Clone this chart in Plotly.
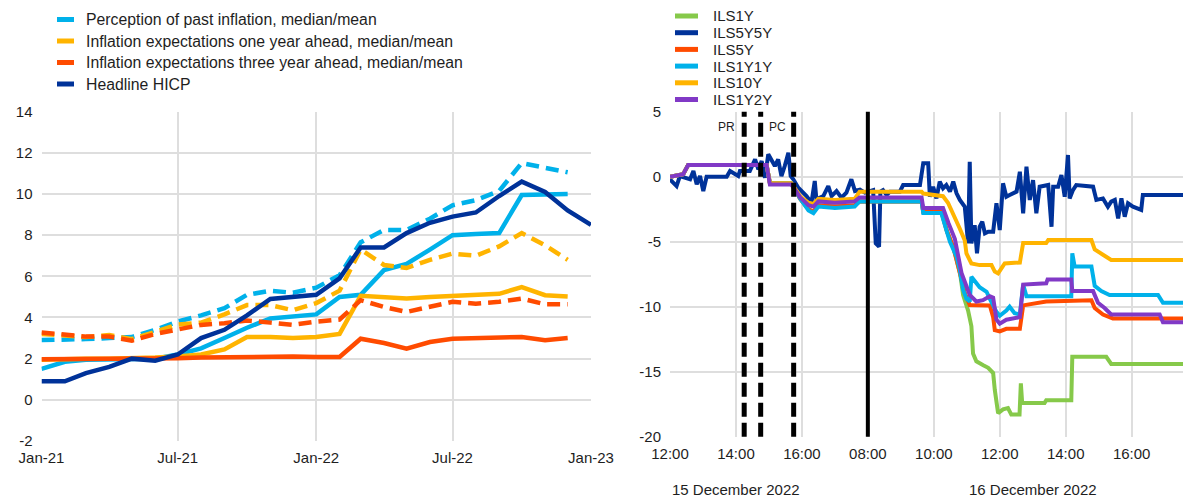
import pandas as pd
import plotly.graph_objects as go

# ---------------- Left panel: monthly data (%) ----------------
months = ["2021-01-01", "2021-02-01", "2021-03-01", "2021-04-01", "2021-05-01", "2021-06-01",
          "2021-07-01", "2021-08-01", "2021-09-01", "2021-10-01", "2021-11-01", "2021-12-01",
          "2022-01-01", "2022-02-01", "2022-03-01", "2022-04-01", "2022-05-01", "2022-06-01",
          "2022-07-01", "2022-08-01", "2022-09-01", "2022-10-01", "2022-11-01", "2022-12-01",
          "2023-01-01"]

hicp = [0.9, 0.9, 1.3, 1.6, 2.0, 1.9, 2.2, 3.0, 3.4, 4.1, 4.9, 5.0,
        5.1, 5.9, 7.4, 7.4, 8.1, 8.6, 8.9, 9.1, 9.9, 10.6, 10.1, 9.2, 8.5]

perc_median = [1.5, 1.85, 1.95, 1.95, 2.0, 2.0, 2.2, 2.5, 3.0, 3.5, 3.95, 4.05,
               4.15, 5.0, 5.1, 6.3, 6.6, 7.3, 8.0, 8.05, 8.1, 9.95, 10.0, 10.0]
perc_mean = [2.9, 2.9, 2.95, 3.0, 3.05, 3.4, 3.8, 4.1, 4.45, 5.1, 5.3, 5.2,
             5.45, 6.05, 7.65, 8.25, 8.25, 8.8, 9.45, 9.7, 10.15, 11.5, 11.25, 11.05]

exp1y_median = [1.95, 2.0, 2.0, 2.0, 2.0, 2.05, 2.1, 2.2, 2.45, 3.05, 3.05, 3.0,
                3.05, 3.2, 5.05, 5.0, 4.92, 5.0, 5.05, 5.05, 5.15, 5.48, 5.08, 5.02]
exp1y_mean = [3.2, 3.1, 3.05, 3.15, 2.95, 3.3, 3.65, 3.75, 4.15, 4.6, 4.6, 4.35,
              4.7, 5.3, 7.3, 6.55, 6.4, 6.8, 7.1, 7.0, 7.45, 8.1, 7.5, 6.8]

exp3y_median = [1.97, 1.97, 1.98, 2.0, 2.0, 2.0, 2.02, 2.05, 2.07, 2.1, 2.1, 2.1,
                2.08, 2.08, 2.97, 2.76, 2.49, 2.81, 2.97, 2.98, 3.0, 3.05, 2.9, 3.0]
exp3y_mean = [3.27, 3.15, 3.07, 3.07, 2.87, 3.2, 3.4, 3.64, 3.72, 3.85, 3.75, 3.64,
              3.8, 3.9, 4.84, 4.51, 4.27, 4.51, 4.76, 4.67, 4.76, 4.92, 4.64, 4.64]

left_names = ["Perception of past inflation, median/mean",
              "Inflation expectations one year ahead, median/mean",
              "Inflation expectations three year ahead, median/mean",
              "Headline HICP"]
left_xticks = ["2021-01-01", "2021-07-01", "2022-01-01", "2022-07-01", "2023-01-01"]
left_yticks = [-2, 0, 2, 4, 6, 8, 10, 12, 14]

# ---------------- Right panel: intraday ILS changes (basis points) ----------------
# time = hours after 15 Dec 2022 00:00 (values >= 24 fall on 16 Dec 2022)
ils1y_t = [12.0, 12.4, 12.55, 14.93, 15.03, 15.68, 15.95, 16.2, 16.35, 16.5, 17.0, 17.6, 17.75,
           32.0, 33.63, 33.68, 34.23, 34.40, 34.60, 34.80, 34.89, 35.04, 35.14, 35.19, 35.29,
           35.50, 35.65, 35.80, 35.85, 35.95, 36.10, 36.25, 36.35, 36.6, 36.64, 36.68, 37.36,
           37.41, 38.17, 38.2, 39.23, 39.38, 41.8]
ils1y_v = [0.0, 0.2, 0.9, 0.9, -0.5, -0.5, -1.7, -2.5, -2.7, -2.2, -2.3, -2.2, -1.9,
           -1.9, -1.9, -2.7, -2.7, -4.2, -5.5, -7.5, -9.1, -10.3, -11.5, -13.6, -14.2,
           -14.5, -14.7, -15.1, -16.4, -18.2, -17.9, -17.8, -18.3, -18.3, -15.9, -17.4, -17.4,
           -17.2, -17.2, -13.85, -13.85, -14.4, -14.4]

ils5y5y_t = [12.0, 12.2, 12.3, 12.61, 12.71, 12.81, 12.91, 13.01, 13.11, 13.72,
             13.82, 14.07, 14.12, 14.42, 14.58, 14.68, 14.78, 14.88, 14.98, 15.08,
             15.18, 15.28, 15.38, 15.48, 15.59, 15.66, 15.74, 15.89, 15.99, 16.14,
             16.29, 16.39, 16.44, 16.65, 16.80, 16.90, 17.05, 17.20, 17.35, 17.50,
             17.61, 17.76, 17.91,
             32.01, 32.16, 32.24, 32.34, 32.38, 32.46, 32.57, 32.67, 32.97, 33.07,
             33.58, 33.68, 33.83, 33.88, 33.98, 34.08, 34.18, 34.28, 34.38, 34.49,
             34.59, 34.69, 34.79, 34.94, 35.04, 35.09, 35.14, 35.24, 35.31, 35.39,
             35.47, 35.55, 35.65, 35.80, 35.90, 36.00, 36.10, 36.20, 36.30, 36.51,
             36.61, 36.71, 36.81, 36.91, 37.01, 37.11, 37.21, 37.47, 37.57, 37.62,
             37.77, 37.87, 37.97, 38.07, 38.12, 38.22, 38.32, 38.83, 38.93, 39.13,
             39.28, 39.38, 39.49, 39.59, 39.69, 39.79, 39.89, 40.04, 40.29, 40.34,
             41.8]
ils5y5y_v = [-0.2, -0.72, 0.05, -0.2, 0.44, -0.59, 0.05, -1.1, 0.0, 0.0,
             0.44, 0.05, 0.44, 0.44, 1.33, 0.56, 1.2, -0.08, 1.72, 1.33,
             0.82, 1.33, 0.05, 0.82, 1.85, 0.05, -0.2, -0.85, -1.1, -1.49,
             -2.0, -0.33, -1.74, -1.49, -0.72, -1.49, -1.1, -1.62, -1.23, -0.2,
             -1.1, -1.0, -1.23,
             -1.15, -1.03, -5.13, -5.38, -1.15, -1.03, -1.41, -1.15, -1.15, -0.64,
             -0.64, 1.03, 1.03, -1.54, -0.77, -1.67, -0.38, -0.9, -0.64, -1.15,
             -0.38, -1.28, -1.79, -2.31, -5.13, 1.15, -5.13, -3.72, -5.9, -3.85,
             -3.46, -4.36, -4.23, -4.23, -2.05, -4.1, -0.51, -1.54, -1.41, -1.15,
             0.38, -2.82, 0.77, -1.79, -0.26, -2.82, -0.77, -0.64, -3.85, -0.77,
             -0.77, 0.13, -1.54, 1.67, -1.67, -1.03, -0.64, -0.77, -1.79, -1.67,
             -2.31, -1.92, -1.79, -3.21, -1.67, -3.08, -2.05, -2.31, -2.56, -1.41,
             -1.41]

ils5y_t = [12.0, 12.4, 12.55, 14.93, 15.03, 15.68, 15.95, 16.2, 16.35, 16.5, 17.0, 17.6, 17.75,
           32.0, 33.63, 33.68, 34.23, 34.40, 34.60, 34.80, 34.95, 35.09, 35.70, 35.80, 35.85,
           36.0, 36.2, 36.61, 36.71, 37.41, 38.78, 38.88, 39.13, 39.43, 41.8]
ils5y_v = [0.0, 0.2, 0.9, 0.9, -0.5, -0.5, -1.7, -2.5, -2.7, -2.2, -2.3, -2.2, -1.9,
           -1.9, -1.9, -2.7, -2.7, -4.2, -5.5, -7.5, -9.0, -9.87, -9.9, -10.8, -11.8,
           -11.9, -11.7, -11.7, -9.9, -9.6, -9.5, -10.1, -10.6, -10.9, -10.9]

ils1y1y_t = [12.0, 12.4, 12.55, 14.93, 15.03, 15.68, 15.95, 16.2, 16.35, 16.5, 17.0, 17.6, 17.75,
             32.0, 33.63, 33.68, 34.23, 34.38, 34.49, 34.69, 34.79, 34.89, 34.99, 35.09, 35.14,
             35.39, 35.60, 35.70, 35.90, 36.0, 36.2, 36.3, 36.45, 36.61, 36.71, 36.81, 38.17,
             38.2, 38.27, 38.78, 38.88, 39.08, 39.33, 40.80, 40.95, 41.8]
ils1y1y_v = [0.0, 0.2, 0.9, 0.9, -0.5, -0.5, -1.7, -2.6, -2.8, -2.3, -2.4, -2.3, -1.9,
             -1.9, -1.9, -2.8, -2.8, -4.1, -5.0, -6.15, -7.2, -8.7, -9.4, -9.6, -7.7,
             -8.5, -8.85, -9.4, -10.4, -10.7, -10.3, -10.0, -10.5, -10.6, -8.3, -9.2, -9.2,
             -5.9, -6.9, -6.9, -8.4, -8.8, -9.1, -9.1, -9.7, -9.7]

ils10y_t = [12.0, 12.4, 12.55, 14.93, 15.03, 15.68, 15.95, 16.2, 16.35, 16.5, 17.0, 17.6, 17.75,
            32.0, 33.63, 33.68, 34.28, 34.43, 34.64, 34.79, 34.94, 34.99, 35.14, 35.39, 35.75,
            35.85, 35.95, 36.05, 36.15, 36.61, 36.71, 37.41, 37.47, 38.78, 38.88, 39.13, 39.38,
            41.8]
ils10y_v = [0.0, 0.2, 0.9, 0.9, -0.5, -0.5, -1.5, -2.0, -2.1, -1.7, -1.8, -1.7, -1.15,
            -1.15, -1.15, -1.3, -1.5, -2.0, -3.1, -4.0, -4.9, -5.9, -6.67, -6.8, -6.8,
            -7.3, -7.44, -7.05, -6.67, -6.6, -5.1, -5.1, -4.87, -4.87, -5.6, -6.0, -6.4,
            -6.4]

ils1y2y_t = [12.0, 12.4, 12.55, 14.93, 15.03, 15.68, 15.95, 16.2, 16.35, 16.5, 17.0, 17.6, 17.75,
             32.0, 33.63, 33.68, 34.28, 34.45, 34.64, 34.84, 35.09, 35.29, 35.49, 35.70, 35.80,
             35.90, 36.0, 36.2, 36.45, 36.61, 36.71, 37.41, 37.45, 38.17, 38.2, 38.83, 38.98,
             39.18, 39.38, 40.85, 40.95, 41.8]
ils1y2y_v = [0.0, 0.2, 0.9, 0.9, -0.6, -0.6, -1.6, -2.2, -2.3, -1.9, -2.0, -1.9, -1.6,
             -1.6, -1.6, -2.4, -2.4, -3.6, -4.8, -7.4, -9.1, -9.6, -9.5, -9.2, -9.3,
             -11.0, -11.3, -11.0, -10.9, -10.8, -8.3, -8.2, -7.9, -7.9, -8.8, -8.8, -9.7,
             -10.1, -10.6, -10.6, -11.2, -11.2]

right_names = ["ILS1Y", "ILS5Y5Y", "ILS5Y", "ILS1Y1Y", "ILS10Y", "ILS1Y2Y"]
right_colors = ["#86C94A", "#003299", "#FF4B00", "#00B1EA", "#FFB400", "#8139C6"]

event_times = ["2022-12-15 14:15", "2022-12-15 14:45", "2022-12-15 15:45"]  # PR, PC start, PC end
day_break = "2022-12-16 08:00"
event_labels = ["PR", "PC"]
event_label_x = ["2022-12-15 13:42", "2022-12-15 15:15"]

right_xticks = ["2022-12-15 12:00", "2022-12-15 14:00", "2022-12-15 16:00", "2022-12-16 08:00",
                "2022-12-16 10:00", "2022-12-16 12:00", "2022-12-16 14:00", "2022-12-16 16:00"]
right_xticktext = ["12:00", "14:00", "16:00", "08:00", "10:00", "12:00", "14:00", "16:00"]
right_yticks = [-20, -15, -10, -5, 0, 5]
day_labels = ["15 December 2022", "16 December 2022"]
day_label_x = ["2022-12-15 14:00", "2022-12-16 13:00"]

# ---------------- Styling / layout helpers ----------------
LBLUE, YELLOW, ORANGE, DBLUE = "#00B1EA", "#FFB400", "#FF4B00", "#003299"
FONT = "Arial, Liberation Sans, sans-serif"
TXT = "#1e1e1e"
GRID = "#dedede"
VIEW_W, VIEW_H = 1191, 500
PAGE_MARGIN = 8  # default body margin of the html page
W, H = VIEW_W - PAGE_MARGIN, VIEW_H - PAGE_MARGIN


def px(x):  # window pixel -> paper x
    return (x - PAGE_MARGIN) / W


def py(y):  # window pixel -> paper y
    return 1 - (y - PAGE_MARGIN) / H


base = pd.Timestamp("2022-12-15")


def to_time(hours):
    return base + pd.to_timedelta(hours, unit="h")


fig = go.Figure()

# left panel
m = pd.to_datetime(months)
pairs = [(perc_mean, perc_median, LBLUE), (exp1y_mean, exp1y_median, YELLOW),
         (exp3y_mean, exp3y_median, ORANGE)]
for mean_v, med_v, col in pairs:
    fig.add_trace(go.Scatter(x=m[:len(mean_v)], y=mean_v, mode="lines", xaxis="x", yaxis="y",
                             line=dict(color=col, width=4.5, dash="13px,7px"), showlegend=False))
    fig.add_trace(go.Scatter(x=m[:len(med_v)], y=med_v, mode="lines", xaxis="x", yaxis="y",
                             line=dict(color=col, width=4.5), showlegend=False))
fig.add_trace(go.Scatter(x=m, y=hicp, mode="lines", xaxis="x", yaxis="y",
                         line=dict(color=DBLUE, width=4.5), showlegend=False))

# right panel
series = [(ils1y_t, ils1y_v), (ils5y5y_t, ils5y5y_v), (ils5y_t, ils5y_v),
          (ils1y1y_t, ils1y1y_v), (ils10y_t, ils10y_v), (ils1y2y_t, ils1y2y_v)]
for (t, v), name, col in zip(series, right_names, right_colors):
    fig.add_trace(go.Scatter(x=to_time(t), y=v, mode="lines", name=name, xaxis="x2", yaxis="y2",
                             line=dict(color=col, width=4), showlegend=False))

shapes = []
for et in event_times:
    shapes.append(dict(type="line", xref="x2", yref="y2 domain", x0=et, x1=et, y0=0, y1=1,
                       line=dict(color="black", width=5, dash="14px,6px")))
shapes.append(dict(type="line", xref="x2", yref="y2 domain", x0=day_break, x1=day_break,
                   y0=0, y1=1, line=dict(color="black", width=4)))

annotations = []
# custom legends (short swatches like the original)
left_colors = [LBLUE, YELLOW, ORANGE, DBLUE]
for i, (name, col) in enumerate(zip(left_names, left_colors)):
    yp = py(19.5 + i * 21.5)
    shapes.append(dict(type="line", xref="paper", yref="paper", x0=px(57), x1=px(74),
                       y0=yp, y1=yp, line=dict(color=col, width=5)))
    annotations.append(dict(text=name, xref="paper", yref="paper", x=px(83.5), y=yp,
                            xanchor="left", yanchor="middle", showarrow=False,
                            font=dict(size=15.8, color=TXT, family=FONT)))
for i, (name, col) in enumerate(zip(right_names, right_colors)):
    yp = py(16 + i * 16.7)
    shapes.append(dict(type="line", xref="paper", yref="paper", x0=px(675), x1=px(698),
                       y0=yp, y1=yp, line=dict(color=col, width=5)))
    annotations.append(dict(text=name, xref="paper", yref="paper", x=px(711), y=yp,
                            xanchor="left", yanchor="middle", showarrow=False,
                            font=dict(size=15, color=TXT, family=FONT)))

for lab, lx in zip(event_labels, event_label_x):
    annotations.append(dict(text=lab, xref="x2", yref="y2", x=lx, y=3.85, showarrow=False,
                            xanchor="center", yanchor="middle",
                            font=dict(size=12, color=TXT, family=FONT)))
for lab, lx in zip(day_labels, day_label_x):
    annotations.append(dict(text=lab, xref="x2", yref="paper", x=lx, y=py(489),
                            showarrow=False, xanchor="center", yanchor="middle",
                            font=dict(size=15, color=TXT, family=FONT)))

axis_common = dict(showgrid=True, gridcolor=GRID, gridwidth=1.5, zeroline=False, showline=False,
                   automargin=False, ticks="", tickfont=dict(size=15, color=TXT, family=FONT))

fig.update_layout(
    width=W, height=H, margin=dict(l=0, r=0, t=0, b=0, pad=0, autoexpand=False),
    paper_bgcolor="white", plot_bgcolor="white", showlegend=False,
    font=dict(family=FONT, color=TXT),
    xaxis=dict(domain=[px(41.5), px(591)], type="date", anchor="y",
               range=["2021-01-01", "2023-01-01"], tickvals=left_xticks, tickformat="%b-%y",
               ticklabelstandoff=6, **axis_common),
    yaxis=dict(domain=[py(441), py(111.6)], anchor="x", range=[-2, 14],
               tickvals=left_yticks, ticktext=[str(v) for v in left_yticks],
               ticklabelstandoff=8, **axis_common),
    xaxis2=dict(domain=[px(670), 1.0], type="date", anchor="y2",
                range=["2022-12-15 12:00", "2022-12-16 17:48"],
                rangebreaks=[dict(bounds=[18, 8], pattern="hour")],
                tickvals=right_xticks, ticktext=right_xticktext,
                ticklabelstandoff=6, **axis_common),
    yaxis2=dict(domain=[py(436.7), py(111.7)], anchor="x2", range=[-20, 5],
                tickvals=right_yticks, ticktext=[str(v) for v in right_yticks],
                ticklabelstandoff=8, **axis_common),
    shapes=shapes, annotations=annotations,
)

fig.write_html("out.html")
